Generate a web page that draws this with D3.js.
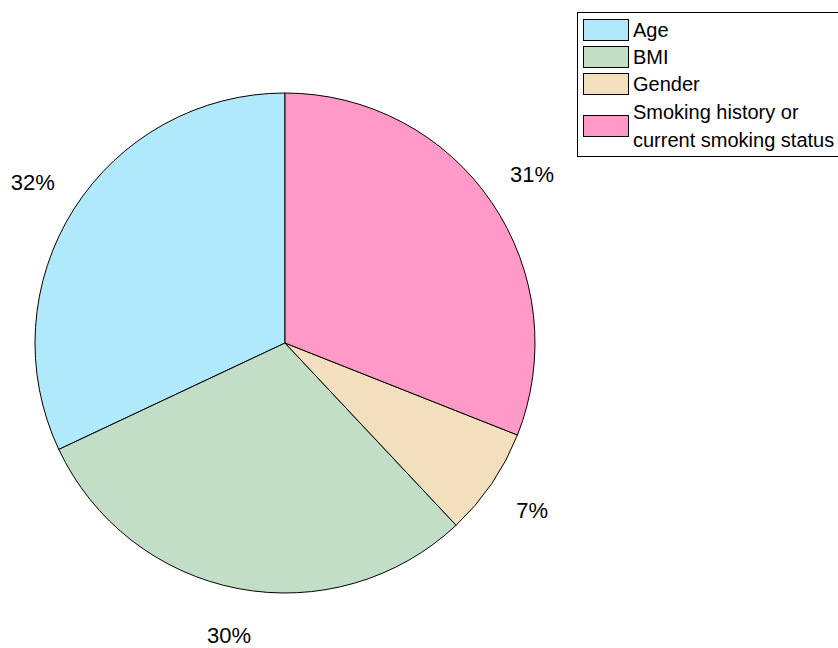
<!DOCTYPE html>
<html lang="en">
<head>
    <meta charset="UTF-8">
    <title>Pie chart</title>
    <script src="https://cdnjs.cloudflare.com/ajax/libs/d3/7.8.5/d3.min.js"></script>
    <style>
        body { margin: 0; background: #fff; }
        svg { display: block; font-family: "Liberation Sans", Arial, sans-serif; }
    </style>
</head>
<body>
    <div id="chart"></div>
    <script>
        // Data
        const categories = ["Age", "BMI", "Gender", "Smoking history or\ncurrent smoking status"];
        const values = [32, 30, 7, 31];
        const colors = ["#b0e9fc", "#c3dec7", "#f2dfbd", "#ff99c8"];

        const width = 838, height = 648;
        const cx = 285, cy = 343, radius = 250;

        const svg = d3.select("#chart").append("svg")
            .attr("width", width)
            .attr("height", height);

        const total = d3.sum(values);

        // MATLAB-style: start at 12 o'clock, go counterclockwise
        const pie = d3.pie().sort(null)
            .startAngle(0).endAngle(-2 * Math.PI);
        const arcs = pie(values);

        const arc = d3.arc().innerRadius(0).outerRadius(radius);
        const labelArc = d3.arc().innerRadius(radius * 1.195).outerRadius(radius * 1.195);

        const g = svg.append("g").attr("transform", `translate(${cx},${cy})`);

        g.selectAll("path.slice")
            .data(arcs)
            .enter().append("path")
            .attr("class", "slice")
            .attr("d", arc)
            .attr("fill", (d, i) => colors[i])
            .attr("stroke", "#000")
            .attr("stroke-width", 1);

        g.selectAll("text.pct")
            .data(arcs)
            .enter().append("text")
            .attr("class", "pct")
            .attr("transform", d => `translate(${labelArc.centroid(d)})`)
            .attr("text-anchor", "middle")
            .attr("dy", "0.3em")
            .attr("font-size", 22)
            .text(d => Math.round(d.value / total * 100) + "%");

        // Legend
        const legend = svg.append("g");
        legend.append("rect")
            .attr("x", 577.5).attr("y", 12.5)
            .attr("width", 290).attr("height", 144)
            .attr("fill", "#fff")
            .attr("stroke", "#000")
            .attr("stroke-width", 1);

        const swatchY = [19, 46, 73, 115];
        const items = legend.selectAll("g.item")
            .data(categories)
            .enter().append("g")
            .attr("class", "item");

        items.append("rect")
            .attr("x", 583.5)
            .attr("y", (d, i) => swatchY[i] + 0.5)
            .attr("width", 45).attr("height", 21)
            .attr("fill", (d, i) => colors[i])
            .attr("stroke", "#000")
            .attr("stroke-width", 1);

        items.each(function (d, i) {
            const lines = d.split("\n");
            const t = d3.select(this).append("text")
                .attr("x", 633)
                .attr("font-size", 20);
            const lh = 28;
            const y0 = swatchY[i] + 11 - (lines.length - 1) * lh / 2;
            lines.forEach((ln, k) => {
                t.append("tspan")
                    .attr("x", 633)
                    .attr("y", y0 + k * lh)
                    .attr("dy", "0.35em")
                    .text(ln);
            });
        });
    </script>
</body>
</html>
